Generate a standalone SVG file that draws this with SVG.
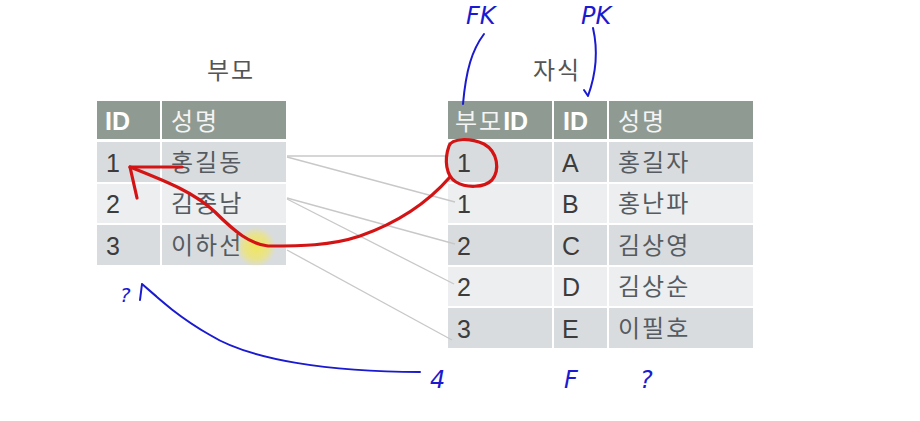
<svg xmlns="http://www.w3.org/2000/svg" width="920" height="421" viewBox="0 0 920 421">
<defs>
<style>
.hdr{fill:#8f9b92}
.dk{fill:#d9dcde}
.lt{fill:#eceeef}
.ht{font-family:"Liberation Sans","Noto Sans CJK KR",sans-serif;font-size:25px;font-weight:bold;fill:#ffffff}
.hk{font-family:"Noto Sans CJK KR",sans-serif;font-size:24px;letter-spacing:2px;fill:#f4f4f4}
.bt{font-family:"Liberation Sans","Noto Sans CJK KR",sans-serif;font-size:25px;fill:#3c3c3c}
.bk{font-family:"Noto Sans CJK KR",sans-serif;font-size:24px;letter-spacing:2px;fill:#555b60}
.ttl{font-family:"Noto Sans CJK KR",sans-serif;font-size:24px;letter-spacing:2px;fill:#555555}
.conn{stroke:#c8c8c8;stroke-width:1.3;fill:none}
.red{stroke:#d41414;stroke-width:3.2;fill:none;stroke-linecap:round;stroke-linejoin:round}
.blue{stroke:#1a1ad0;stroke-width:2;fill:none;stroke-linecap:round;stroke-linejoin:round}
.hw{font-family:"DejaVu Sans",sans-serif;font-style:italic;font-size:24px;fill:#1a1ad0}
</style>
<radialGradient id="glow">
<stop offset="0" stop-color="#f5e84a" stop-opacity="0.85"/>
<stop offset="0.6" stop-color="#f5e84a" stop-opacity="0.55"/>
<stop offset="1" stop-color="#f5e84a" stop-opacity="0"/>
</radialGradient>
</defs>
<rect width="920" height="421" fill="#ffffff"/>

<g id="parent">
<text class="ttl" x="231" y="79" text-anchor="middle">부모</text>
<rect class="hdr" x="97" y="101" width="63" height="38"/>
<rect class="hdr" x="162" y="101" width="124" height="38"/>
<rect class="dk" x="97" y="142" width="63" height="40"/>
<rect class="dk" x="162" y="142" width="124" height="40"/>
<rect class="lt" x="97" y="184" width="63" height="39"/>
<rect class="lt" x="162" y="184" width="124" height="39"/>
<rect class="dk" x="97" y="225" width="63" height="40"/>
<rect class="dk" x="162" y="225" width="124" height="40"/>
<text class="ht" x="105" y="130">ID</text>
<text class="hk" x="171" y="130">성명</text>
<text class="bt" x="106" y="172">1</text>
<text class="bk" x="171" y="171">홍길동</text>
<text class="bt" x="106" y="213">2</text>
<text class="bk" x="171" y="212">김종남</text>
<text class="bt" x="106" y="255">3</text>
<text class="bk" x="171" y="254">이하선</text>
</g>

<g id="child">
<text class="ttl" x="557" y="79" text-anchor="middle">자식</text>
<rect class="hdr" x="448" y="101" width="104" height="38"/>
<rect class="hdr" x="554" y="101" width="53" height="38"/>
<rect class="hdr" x="609" y="101" width="144" height="38"/>
<rect class="dk" x="448" y="142" width="104" height="40"/>
<rect class="dk" x="554" y="142" width="53" height="40"/>
<rect class="dk" x="609" y="142" width="144" height="40"/>
<rect class="lt" x="448" y="184" width="104" height="39"/>
<rect class="lt" x="554" y="184" width="53" height="39"/>
<rect class="lt" x="609" y="184" width="144" height="39"/>
<rect class="dk" x="448" y="225" width="104" height="40"/>
<rect class="dk" x="554" y="225" width="53" height="40"/>
<rect class="dk" x="609" y="225" width="144" height="40"/>
<rect class="lt" x="448" y="267" width="104" height="39"/>
<rect class="lt" x="554" y="267" width="53" height="39"/>
<rect class="lt" x="609" y="267" width="144" height="39"/>
<rect class="dk" x="448" y="308" width="104" height="40"/>
<rect class="dk" x="554" y="308" width="53" height="40"/>
<rect class="dk" x="609" y="308" width="144" height="40"/>
<text class="hk" x="455" y="130">부모<tspan class="ht" style="letter-spacing:0">ID</tspan></text>
<text class="ht" x="563" y="130">ID</text>
<text class="hk" x="618" y="130">성명</text>
<text class="bt" x="457" y="172">1</text>
<text class="bt" x="562" y="172">A</text>
<text class="bk" x="618" y="171">홍길자</text>
<text class="bt" x="457" y="213">1</text>
<text class="bt" x="562" y="213">B</text>
<text class="bk" x="618" y="212">홍난파</text>
<text class="bt" x="457" y="255">2</text>
<text class="bt" x="562" y="255">C</text>
<text class="bk" x="618" y="254">김상영</text>
<text class="bt" x="457" y="296">2</text>
<text class="bt" x="562" y="296">D</text>
<text class="bk" x="618" y="295">김상순</text>
<text class="bt" x="457" y="338">3</text>
<text class="bt" x="562" y="338">E</text>
<text class="bk" x="618" y="337">이필호</text>
</g>

<g id="connectors">
<line class="conn" x1="287" y1="156" x2="449" y2="156"/>
<line class="conn" x1="287" y1="157" x2="455" y2="202"/>
<line class="conn" x1="287" y1="198" x2="455" y2="244"/>
<line class="conn" x1="287" y1="199" x2="454" y2="284"/>
<line class="conn" x1="287" y1="250" x2="452" y2="340"/>
</g>

<g id="annotations">
<circle cx="256" cy="247" r="20" fill="url(#glow)"/>
<path class="red" d="M449,146 C452,138 470,138 484,144 C498,152 500,170 492,180 C484,188 466,188 456,182 C446,176 444,160 449,146"/>
<path class="red" d="M450,177 C430,200 400,222 360,236 C330,246 300,246 268,246 C250,244 235,232 215,212 C195,193 168,182 130,167"/>
<path class="red" d="M182,167 L130,167 L137,198"/>
<path class="blue" d="M484,34 C472,50 466,70 463,104"/>
<path class="blue" d="M593,28 C598,50 596,74 588,96 M584,90 L588,96"/>
<path class="blue" d="M420,372 C330,372 250,360 210,335 C180,318 160,300 142,284 M142,284 L140,300 M142,284 L156,296"/>
<text class="hw" x="466" y="24">FK</text>
<text class="hw" x="581" y="24">PK</text>
<text class="hw" x="430" y="388">4</text>
<text class="hw" x="564" y="388">F</text>
<text class="hw" x="640" y="388">?</text>
<text class="hw" x="120" y="302" style="font-size:20px">?</text>
</g>
</svg>
